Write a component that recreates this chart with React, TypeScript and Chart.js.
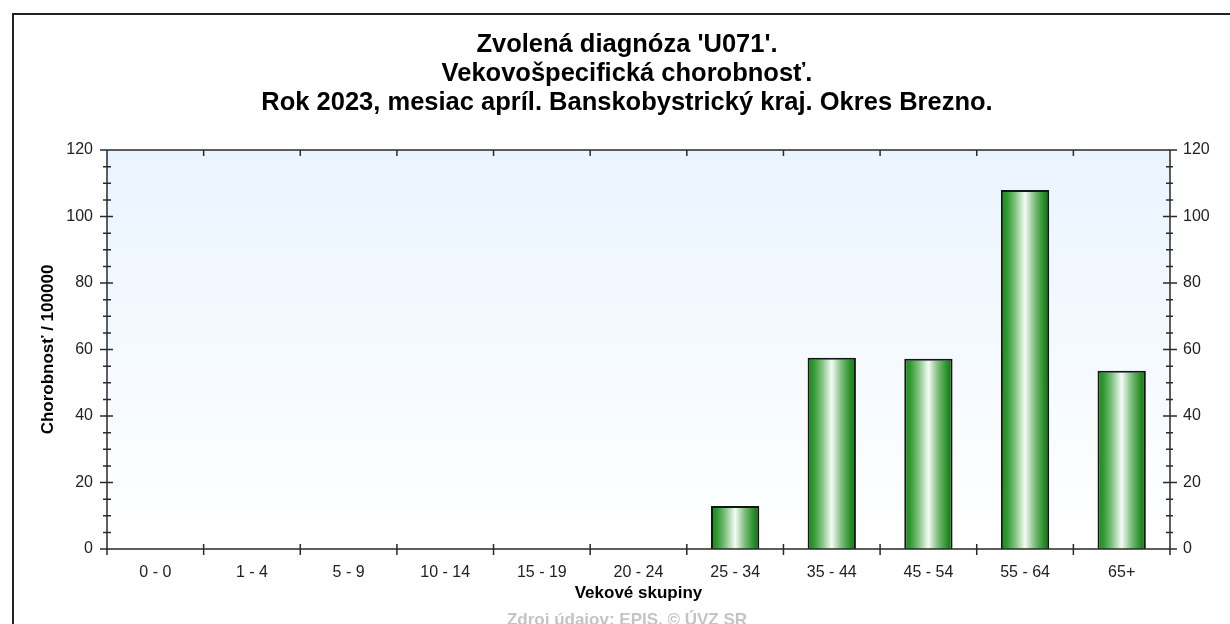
import React, { useEffect, useRef } from "react";
import { Chart, registerables } from "chart.js";

Chart.register(...registerables);

const categories = ["0 - 0", "1 - 4", "5 - 9", "10 - 14", "15 - 19", "20 - 24", "25 - 34", "35 - 44", "45 - 54", "55 - 64", "65+"];
const values = [0, 0, 0, 0, 0, 0, 12.9, 57.5, 57.2, 108.0, 53.6];
const titleLines = [
  "Zvolená diagnóza 'U071'.",
  "Vekovošpecifická chorobnosť.",
  "Rok 2023, mesiac apríl. Banskobystrický kraj. Okres Brezno.",
];
const yAxisTitle = "Chorobnosť / 100000";
const xAxisTitle = "Vekové skupiny";
const footerText = "Zdroj údajov: EPIS, © ÚVZ SR";
const yMin = 0;
const yMax = 120;
const yStep = 20;
const yMinorStep = 5;

const FONT = "'Liberation Sans', Arial, sans-serif";
const AXIS_COLOR = "#2a2a2a";

const backgroundPlugin = {
  id: "bgPlugin",
  beforeDraw(chart: any) {
    const { ctx, chartArea, width, height } = chart;
    ctx.save();
    ctx.fillStyle = "#ffffff";
    ctx.fillRect(0, 0, width, height);
    ctx.strokeStyle = "#222";
    ctx.lineWidth = 2;
    ctx.strokeRect(13, 14, width + 20, height + 20);
    const g = ctx.createLinearGradient(0, chartArea.top, 0, chartArea.bottom);
    g.addColorStop(0, "#eaf4fe");
    g.addColorStop(1, "#ffffff");
    ctx.fillStyle = g;
    ctx.fillRect(chartArea.left, chartArea.top, chartArea.right - chartArea.left, chartArea.bottom - chartArea.top);
    ctx.restore();
  },
};

const axesPlugin = {
  id: "axesPlugin",
  afterDatasetsDraw(chart: any) {
    const { ctx, chartArea, scales } = chart;
    const x = scales.x;
    const y = scales.y;
    const { left, right, top, bottom } = chartArea;
    ctx.save();
    ctx.strokeStyle = AXIS_COLOR;
    ctx.lineWidth = 1.5;
    ctx.beginPath();
    ctx.moveTo(left - 7, top);
    ctx.lineTo(right + 7, top);
    ctx.moveTo(left - 7, bottom);
    ctx.lineTo(right + 7, bottom);
    ctx.moveTo(left, top);
    ctx.lineTo(left, bottom + 6);
    ctx.moveTo(right, top);
    ctx.lineTo(right, bottom + 6);
    const n = categories.length;
    const step = x.getPixelForValue(1) - x.getPixelForValue(0);
    for (let i = 0; i <= n; i++) {
      const px = x.getPixelForValue(0) - step / 2 + i * step;
      ctx.moveTo(px, bottom - 5);
      ctx.lineTo(px, bottom + 6);
      ctx.moveTo(px, top);
      ctx.lineTo(px, top + 6);
    }
    for (let v = yMin; v <= yMax; v += yMinorStep) {
      const py = y.getPixelForValue(v);
      const major = v % yStep === 0;
      if (major) {
        ctx.moveTo(left - 7, py);
        ctx.lineTo(left + 6, py);
        ctx.moveTo(right - 7, py);
        ctx.lineTo(right + 7, py);
      } else {
        ctx.moveTo(left - 4, py);
        ctx.lineTo(left + 4, py);
        ctx.moveTo(right - 4, py);
        ctx.lineTo(right + 3, py);
      }
    }
    ctx.stroke();
    ctx.restore();
  },
};

const textPlugin = {
  id: "textPlugin",
  afterDraw(chart: any) {
    const { ctx } = chart;
    ctx.save();
    ctx.textAlign = "center";
    ctx.textBaseline = "middle";
    ctx.fillStyle = "#000";
    ctx.font = `bold 25.5px ${FONT}`;
    titleLines.forEach((line, i) => {
      ctx.fillText(line, 627, 45 + i * 29);
    });
    ctx.fillStyle = "#c4c4c4";
    ctx.font = `bold 17px ${FONT}`;
    ctx.fillText(footerText, 627, 620);
    ctx.restore();
  },
};

function barGradient(context: any) {
  const chart = context.chart;
  const area = chart.chartArea;
  const xs = chart.scales?.x;
  if (!area || !xs) return "#2a8f2a";
  const idx = context.dataIndex;
  const cx = xs.getPixelForValue(idx);
  const catW = xs.width / categories.length;
  const hw = (catW * 0.5) / 2;
  const g = chart.ctx.createLinearGradient(cx - hw, 0, cx + hw, 0);
  g.addColorStop(0, "#1b861b");
  g.addColorStop(0.12, "#2f982f");
  g.addColorStop(0.3, "#82c382");
  g.addColorStop(0.5, "#f6fbf6");
  g.addColorStop(0.7, "#7cbd7c");
  g.addColorStop(0.88, "#2b912b");
  g.addColorStop(1, "#0a6e0a");
  return g;
}

export default function App() {
  const canvasRef = useRef<HTMLCanvasElement | null>(null);

  useEffect(() => {
    const canvas = canvasRef.current;
    if (!canvas) return;
    const tickFont = { family: FONT, size: 16 };
    const titleFont = { family: FONT, size: 17, weight: "bold" as const };
    const noGrid = { display: false, drawTicks: false, tickLength: 0 };
    const chart = new Chart(canvas, {
      type: "bar",
      data: {
        labels: categories,
        datasets: [
          {
            data: values,
            backgroundColor: barGradient,
            borderColor: "#141414",
            borderWidth: 2,
            barPercentage: 0.5,
            categoryPercentage: 1,
            yAxisID: "y",
          },
        ],
      },
      options: {
        responsive: false,
        maintainAspectRatio: false,
        animation: false,
        layout: { padding: { top: 150, left: 0, right: 0, bottom: 0 } },
        plugins: {
          legend: { display: false },
          title: { display: false },
          tooltip: { enabled: false },
        },
        scales: {
          x: {
            type: "category",
            offset: true,
            grid: { ...noGrid, offset: true },
            border: { display: false },
            ticks: { font: tickFont, color: "#222", padding: 14, maxRotation: 0, autoSkip: false },
            title: {
              display: true,
              text: xAxisTitle,
              color: "#000",
              font: titleFont,
              padding: { top: 0, bottom: 20 },
            },
            afterFit(s: any) {
              s.height = 75;
            },
          },
          y: {
            position: "left",
            min: yMin,
            max: yMax,
            grid: noGrid,
            border: { display: false },
            ticks: { stepSize: yStep, font: tickFont, color: "#222", padding: 14 },
            title: {
              display: true,
              text: yAxisTitle,
              color: "#000",
              font: titleFont,
              padding: { top: 38, bottom: 0 },
            },
            afterFit(s: any) {
              s.width = 107;
            },
          },
          y2: {
            position: "right",
            display: true,
            min: yMin,
            max: yMax,
            grid: noGrid,
            border: { display: false },
            ticks: { stepSize: yStep, font: tickFont, color: "#222", padding: 13 },
            afterFit(s: any) {
              s.width = 60;
            },
          },
        },
      },
      plugins: [backgroundPlugin, axesPlugin, textPlugin],
    });
    return () => chart.destroy();
  }, []);

  return (
    <div style={{ position: "fixed", left: 0, top: 0, width: 1230, height: 624, background: "#fff" }}>
      <canvas ref={canvasRef} width={1230} height={624} style={{ display: "block" }} />
    </div>
  );
}
